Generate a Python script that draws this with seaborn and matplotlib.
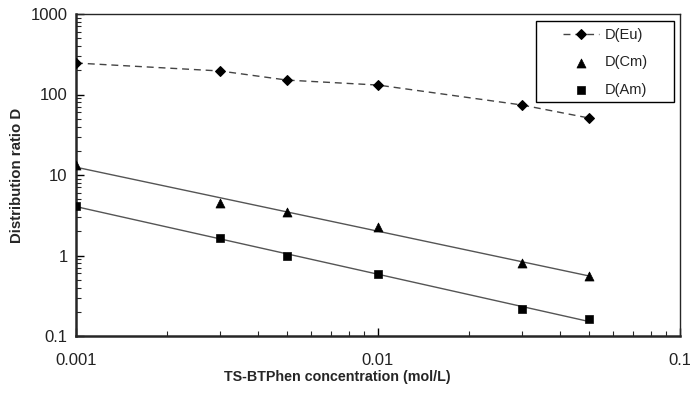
import numpy as np
import pandas as pd
import matplotlib
matplotlib.use("Agg")
import matplotlib.pyplot as plt
import seaborn as sns
from matplotlib.patches import Rectangle
from matplotlib.ticker import LogLocator, NullFormatter, FixedLocator, FixedFormatter

sns.set_style("ticks")
plt.rcParams['font.family'] = ['Liberation Sans', 'DejaVu Sans']

conc = [0.001, 0.003, 0.005, 0.01, 0.03, 0.05]
d_eu = [246, 196, 151, 131, 74, 51]
d_cm = [13.3, 4.5, 3.47, 2.26, 0.81, 0.556]
d_am = [4.1, 1.67, 0.99, 0.59, 0.215, 0.163]

x_ticks = [0.001, 0.01, 0.1]
x_labels = ["0.001", "0.01", "0.1"]
y_ticks = [0.1, 1, 10, 100, 1000]
y_labels = ["0.1", "1", "10", "100", "1000"]

df = pd.DataFrame({"conc": conc, "D(Eu)": d_eu, "D(Cm)": d_cm, "D(Am)": d_am})

W, H = 690, 395
L, R, T, B = 76, 680, 14, 336
fig = plt.figure(figsize=(6.9, 3.95), dpi=100)
ax = fig.add_axes([L / W, 1 - B / H, (R - L) / W, (B - T) / H])


def ax_x(px):
    return (px - L) / (R - L)


def ax_y(py):
    return 1 - (py - T) / (B - T)


# power-law trend lines fitted to the data
for col in ["D(Cm)", "D(Am)"]:
    p = np.polyfit(np.log10(df["conc"]), np.log10(df[col]), 1)
    xs = np.array([df["conc"].min(), df["conc"].max()])
    ax.plot(xs, 10 ** np.polyval(p, np.log10(xs)), color="#555555", lw=1.0, zorder=2)

sns.lineplot(data=df, x="conc", y="D(Eu)", ax=ax, color="#444444", marker="D",
             markersize=5, linestyle=(0, (5, 3.5)), lw=1.0, label="D(Eu)",
             markeredgecolor="black", markerfacecolor="black", zorder=3)
sns.scatterplot(data=df, x="conc", y="D(Cm)", ax=ax, color="black", marker="^",
                s=42, edgecolor="black", label="D(Cm)", zorder=4)
sns.scatterplot(data=df, x="conc", y="D(Am)", ax=ax, color="black", marker="s",
                s=34, edgecolor="black", label="D(Am)", zorder=4)

ax.set_xscale("log")
ax.set_yscale("log")
ax.set_xlim(0.001, 0.1)
ax.set_ylim(0.1, 1000)

ax.xaxis.set_major_locator(FixedLocator(x_ticks))
ax.xaxis.set_major_formatter(FixedFormatter(x_labels))
ax.yaxis.set_major_locator(FixedLocator(y_ticks))
ax.yaxis.set_major_formatter(FixedFormatter(y_labels))
ax.xaxis.set_minor_locator(LogLocator(base=10, subs=np.arange(2, 10), numticks=20))
ax.yaxis.set_minor_locator(LogLocator(base=10, subs=np.arange(2, 10), numticks=20))
ax.xaxis.set_minor_formatter(NullFormatter())
ax.yaxis.set_minor_formatter(NullFormatter())

ax.tick_params(axis="both", which="major", direction="in", length=6, width=1.0,
               labelsize=12, colors="black")
ax.tick_params(axis="both", which="minor", direction="in", length=3.5, width=0.8)
ax.tick_params(axis="x", which="major", pad=12)
ax.tick_params(axis="y", which="major", pad=6)
for sp in ["left", "bottom"]:
    ax.spines[sp].set_linewidth(1.8)
for sp in ["top", "right"]:
    ax.spines[sp].set_linewidth(1.0)
    ax.spines[sp].set_visible(True)
for lab in ax.get_xticklabels() + ax.get_yticklabels():
    lab.set_color("#222222")

ax.set_xlabel("TS-BTPhen concentration (mol/L)", fontsize=10.3, fontweight="bold")
ax.xaxis.set_label_coords(ax_x(337), ax_y(377), transform=ax.transAxes)
ax.xaxis.label.set_verticalalignment("center")
ax.set_ylabel("Distribution ratio D", fontsize=10.8, fontweight="bold")
ax.yaxis.set_label_coords(ax_x(17), 0.5, transform=ax.transAxes)
ax.yaxis.label.set_verticalalignment("center")

# legend frame drawn separately to match the wide padding of the original
ax.add_patch(Rectangle((ax_x(536), ax_y(102)), (674 - 536) / (R - L), (102 - 21) / (B - T),
                       transform=ax.transAxes, facecolor="white", edgecolor="black",
                       lw=1.0, zorder=5, clip_on=False))
leg = ax.legend(loc="upper left", bbox_to_anchor=(ax_x(563), ax_y(28)),
                borderaxespad=0, borderpad=0, fontsize=10.5, frameon=False,
                labelspacing=0.92, handlelength=2.47, handletextpad=0.42)
leg.set_zorder(6)
for t in leg.get_texts():
    t.set_color("#222222")

fig.savefig("out.png", dpi=100)
